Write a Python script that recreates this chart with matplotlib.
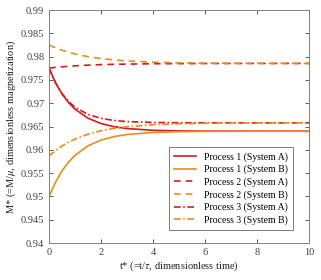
"""
magnetization relaxation plot
"""

import matplotlib
matplotlib.use('Agg')
import matplotlib.pyplot as plt
from matplotlib.ticker import FuncFormatter

plt.rcParams['font.family'] = 'Liberation Serif'
plt.rcParams['mathtext.fontset'] = 'stix'

# dimensionless time samples
t = [0, 0.25, 0.5, 0.75, 1, 1.5, 2, 2.5, 3, 4, 5, 6, 8, 10]

# values
p1A = [0.9775, 0.97438, 0.97198, 0.97013, 0.96871, 0.96678, 0.96564, 0.96497,
       0.96457, 0.9642, 0.96407, 0.96402, 0.9640, 0.9640]
p1B = [0.9500, 0.95310, 0.95551, 0.95739, 0.95885, 0.96088, 0.96211, 0.96285,
       0.9633, 0.96374, 0.96391, 0.96397, 0.9640, 0.9640]
p2A = [0.97755, 0.97770, 0.97783, 0.97794, 0.97804, 0.97818, 0.97829, 0.97836,
       0.97841, 0.97848, 0.97851, 0.97853, 0.97855, 0.97855]
p2B = [0.98250, 0.98189, 0.98138, 0.98095, 0.98058, 0.98000, 0.97959, 0.97930,
       0.97908, 0.97882, 0.97869, 0.97862, 0.97857, 0.97856]
p3A = [0.9775, 0.97436, 0.97206, 0.97038, 0.96915, 0.96759, 0.96676, 0.96631,
       0.96607, 0.96588, 0.96582, 0.96581, 0.9658, 0.9658]
p3B = [0.9587, 0.95986, 0.96083, 0.96164, 0.96232, 0.96337, 0.9641, 0.96461,
       0.96497, 0.96539, 0.9656, 0.9657, 0.96578, 0.9658]

red = '#d41c1c'
orange = '#ec8b17'

fig = plt.figure(figsize=(3.21, 2.80), dpi=100)
ax = fig.add_axes([0.153, 0.132, 0.810, 0.832])

ax.plot(t, p1A, color=red, lw=1.2, label='Process 1 (System A)')
ax.plot(t, p1B, color=orange, lw=1.2, label='Process 1 (System B)')
ax.plot(t, p2A, color=red, lw=1.2, ls=(0, (4, 3)), label='Process 2 (System A)')
ax.plot(t, p2B, color=orange, lw=1.2, ls=(0, (4, 3)), label='Process 2 (System B)')
ax.plot(t, p3A, color=red, lw=1.2, ls=(0, (4, 1.5, 1, 1.5)), label='Process 3 (System A)')
ax.plot(t, p3B, color=orange, lw=1.2, ls=(0, (4, 1.5, 1, 1.5)), label='Process 3 (System B)')

ax.set_xlim(0, 10)
ax.set_ylim(0.94, 0.99)
ax.set_xticks([0, 2, 4, 6, 8, 10])
ax.set_yticks([0.94, 0.945, 0.95, 0.955, 0.96, 0.965, 0.97, 0.975, 0.98, 0.985, 0.99])
ax.yaxis.set_major_formatter(FuncFormatter(lambda v, p: '%g' % round(v, 3)))

ax.tick_params(direction='in', top=True, right=True, labelsize=7.5,
               colors='#404040', length=3, width=0.6)
for s in ax.spines.values():
    s.set_color('#808080')
    s.set_linewidth(0.7)

ax.set_xlabel(r't* (=t/$\tau$, dimensionless time)', fontsize=7.5, color='#202020', labelpad=2)
ax.set_ylabel(r'M* (=M/$\mu$, dimensionless magnetization)', fontsize=7.5, color='#202020', labelpad=2)

leg = ax.legend(loc='lower right', fontsize=7, frameon=True, fancybox=False,
                edgecolor='#404040', handlelength=2.3, borderpad=0.5,
                labelspacing=0.32, bbox_to_anchor=(0.938, 0.056),
                borderaxespad=0)
leg.get_frame().set_linewidth(0.6)

plt.savefig('out.png', dpi=100)
